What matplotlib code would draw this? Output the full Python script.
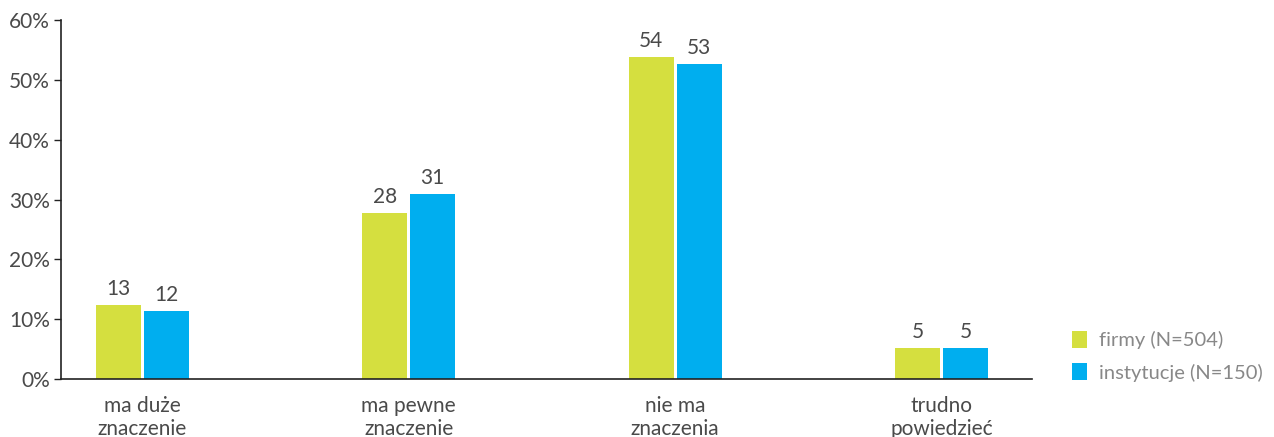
import numpy as np
import matplotlib.pyplot as plt

plt.rcParams['font.family'] = ['Lato', 'DejaVu Sans']

categories = ["ma duże\nznaczenie", "ma pewne\nznaczenie", "nie ma\nznaczenia", "trudno\npowiedzieć"]
firmy = [12.4, 27.8, 53.8, 5.2]
instytucje = [11.4, 30.9, 52.7, 5.2]
firmy_labels = ["13", "28", "54", "5"]
instytucje_labels = ["12", "31", "53", "5"]
series_names = ["firmy (N=504)", "instytucje (N=150)"]
yticks = [0, 10, 20, 30, 40, 50, 60]

c_firmy = "#d5df3f"
c_inst = "#00aeef"
text_col = "#4a4a4a"

fig = plt.figure(figsize=(12.74, 4.37), dpi=100)
ax = fig.add_axes([61 / 1274, 1 - 379 / 437, (1032 - 61) / 1274, 359 / 437])

x = np.arange(len(categories))
w = 0.169
off = 0.09
b1 = ax.bar(x - off, firmy, w, color=c_firmy, label=series_names[0])
b2 = ax.bar(x + off, instytucje, w, color=c_inst, label=series_names[1])

for bars, labels in [(b1, firmy_labels), (b2, instytucje_labels)]:
    for rect, lab in zip(bars, labels):
        ax.text(rect.get_x() + rect.get_width() / 2, rect.get_height() + 1.0, lab,
                ha='center', va='bottom', fontsize=15, color=text_col)

ax.set_xlim(-0.306, (1032 - 142.5) / 266.3)
ax.set_ylim(0, 60)
ax.set_yticks(yticks)
ax.set_yticklabels([f"{t}%" for t in yticks], fontsize=15, color=text_col)
ax.set_xticks(x)
ax.set_xticklabels(categories, fontsize=15, color=text_col, linespacing=1.2)
ax.tick_params(axis='x', length=0, pad=12)
ax.tick_params(axis='y', length=5, width=1, color="#222222", pad=3)
for s in ['top', 'right']:
    ax.spines[s].set_visible(False)
for s in ['left', 'bottom']:
    ax.spines[s].set_color("#222222")
    ax.spines[s].set_linewidth(1.2)

leg = ax.legend(loc='lower left', bbox_to_anchor=(1.033, -0.03), frameon=False,
                fontsize=14.5, handlelength=0.75, handleheight=0.9, handletextpad=0.6,
                labelspacing=0.7, borderaxespad=0)
for t in leg.get_texts():
    t.set_color("#888888")

fig.savefig("out.png", dpi=100)
